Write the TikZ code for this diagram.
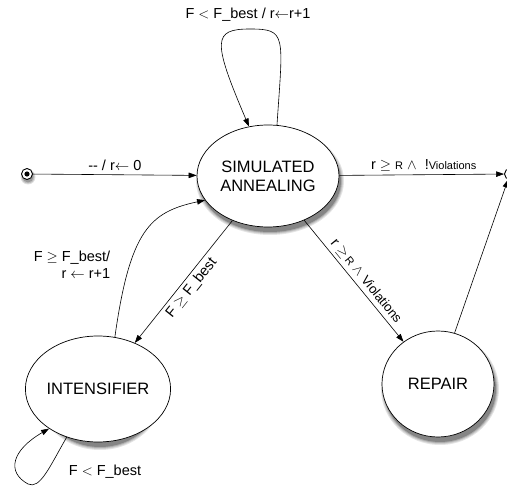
\documentclass[tikz,border=0pt]{standalone}
\usepackage{fontspec}
\setmainfont{Liberation Sans}
\usetikzlibrary{arrows.meta, shapes.geometric}

% soft shadow under a state: node, half width, half height
\newcommand{\stshadow}[3]{%
  \foreach \k/\c in {3/10, 2/20, 1/32, 0/48}
    \fill[black!\c] ([xshift=2pt, yshift=-5pt]#1.center) ellipse ({#2+\k} and {#3+\k});}

\begin{document}
\begin{tikzpicture}[x=1pt, y=-1pt,
  state/.style={ellipse, draw, fill=white, line width=0.7pt, inner sep=0pt,
                align=center, font=\fontsize{16.5}{19}\selectfont},
  pseudo/.style={circle, draw, fill=white, line width=0.9pt, minimum size=11pt,
                 inner sep=0pt},
  arr/.style={-{Triangle[length=8pt, width=5.5pt]}, line width=0.6pt},
  lbl/.style={font=\fontsize{14.5}{17}\selectfont, align=center}
]
  \useasboundingbox (0,0) rectangle (507,486);

  % shadows first
  \coordinate (sac)  at (268,176);
  \coordinate (intc) at (98,389);
  \coordinate (repc) at (438,384);
  \stshadow{sac}{71}{51}
  \stshadow{intc}{59.5}{53}
  \stshadow{repc}{56}{53}
  \foreach \k/\c in {2/12, 1/25, 0/40}
    \fill[black!\c] ([xshift=1pt, yshift=-3pt]27,174) circle ({5.5+\k});

  % states
  \node[state, minimum width=142, minimum height=102] (sa)  at (sac)  {SIMULATED\\ANNEALING};
  \node[state, minimum width=119, minimum height=106] (int) at (intc) {INTENSIFIER};
  \node[state, minimum width=112, minimum height=106] (rep) at (repc) {REPAIR};
  \node[pseudo] (init) at (27,174) {};
  \node[pseudo] (fin)  at (510,174) {};
  \fill (init) circle (2.6);
  \fill (fin) circle (2.6);

  % transitions
  \draw[arr] (init) -- node[lbl, above] {-{}- / r$\leftarrow$ 0} (sa);
  \draw[arr] (sa) -- node[lbl, above, xshift=2pt]
       {r $\geq$ {\fontsize{11}{12}\selectfont R} $\wedge$ \ !{\fontsize{11}{12}\selectfont Violations}} (fin);
  \draw[arr] (sa) -- node[lbl, sloped, above, pos=0.55]
       {r $\geq$\,{\fontsize{11}{12}\selectfont R} $\wedge$ {\fontsize{13}{15}\selectfont Violations}} (rep);
  \draw[arr] (sa) -- node[lbl, sloped, below, pos=0.5] {F $\geq$ F\_best} (int);
  \draw[arr] (rep.72) -- (fin);

  \draw[arr] (sa.80) .. controls (283,35) and (287,29) .. (250,29)
                     .. controls (213,29) and (212,40) .. (sa.111);
  \node[lbl] (lsa) at (248,15) {F $<$ F\_best / r$\leftarrow$r+1};

  \draw[arr] (int.72) .. controls (130,230) and (150,212) .. (sa.201);
  \node[lbl, align=right] (lint) at (72,265) {F $\geq$ F\_best/\\r $\leftarrow$ r+1};

  \draw[arr] (int.237) .. controls (50,466) and (40,490) .. (28,484)
                       .. controls (6,472) and (12,450) .. (int.219);
  \node[lbl] (lloop) at (105,472) {F $<$ F\_best};
\end{tikzpicture}
\end{document}
